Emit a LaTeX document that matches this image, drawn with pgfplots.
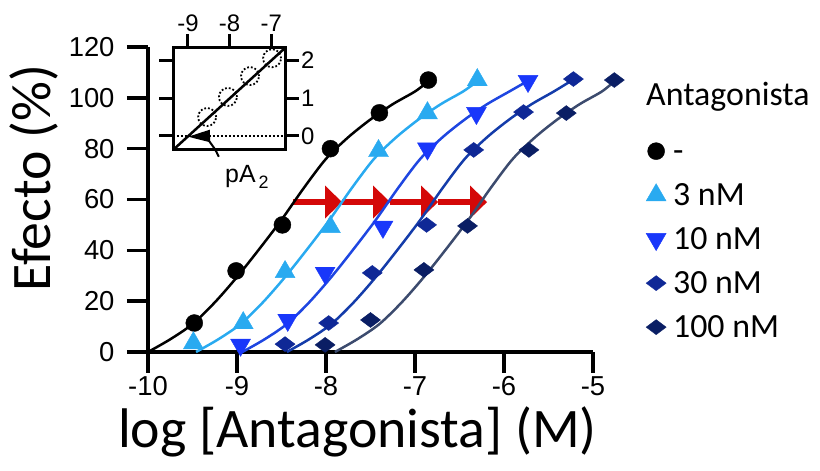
\documentclass[border=0pt]{standalone}
\usepackage{pgfplots}
\pgfplotsset{compat=1.18}
\usepackage{fontspec}
\setmainfont{Liberation Sans}
\newfontfamily\carlito{Carlito}
\usetikzlibrary{arrows.meta}
\definecolor{cLight}{RGB}{41,170,240}
\definecolor{cBlue}{RGB}{25,55,250}
\definecolor{cBlueL}{RGB}{30,70,225}
\definecolor{cDark}{RGB}{15,40,150}
\definecolor{cDarkL}{RGB}{20,60,170}
\definecolor{cNavy}{RGB}{10,30,100}
\definecolor{cNavyL}{RGB}{60,75,110}
\definecolor{cRed}{RGB}{212,8,8}
\begin{document}
\begin{tikzpicture}
\useasboundingbox (0,0) rectangle (820bp,471bp);
\begin{axis}[
  at={(148bp,119bp)}, anchor=south west, scale only axis,
  width=445bp, height=305bp,
  xmin=-10, xmax=-5, ymin=0, ymax=120,
  axis x line*=bottom, axis y line*=left,
  axis line style={line width=3.5bp, -},
  xtick={-10,-9,-8,-7,-6,-5}, xticklabels={-10,-9,-8,-7,-6,-5},
  ytick={0,20,40,60,80,100,120}, yticklabels={0,20,40,60,80,100,120},
  tick align=outside, major tick length=21bp,
  every tick/.style={line width=3.5bp, black},
  tick label style={font=\fontsize{27.5}{30}\selectfont},
  yticklabel style={xshift=-9bp},
  clip=false,
  legend style={draw=none, fill=none, at={(axis description cs:1.11,0.705)}, anchor=north west,
    font=\carlito\fontsize{34}{40}\selectfont, row sep=20bp, column sep=6bp,
    nodes={text height=22bp, text depth=2bp, inner sep=0pt}},
  legend cell align=left,
  legend image code/.code={\path[draw=none,fill=none] (-11bp,-11bp) (11bp,11bp); \draw[#1] plot coordinates {(0bp,0bp)};},
]
% red arrows
\draw[cRed, line width=6.5bp, -{Triangle[length=17bp,width=32bp]}] (axis cs:-8.37,59) -- (axis cs:-7.82,59);
\draw[cRed, line width=6.5bp, -{Triangle[length=17bp,width=32bp]}] (axis cs:-7.82,59) -- (axis cs:-7.28,59);
\draw[cRed, line width=6.5bp, -{Triangle[length=17bp,width=32bp]}] (axis cs:-7.28,59) -- (axis cs:-6.74,59);
\draw[cRed, line width=6.5bp, -{Triangle[length=17bp,width=32bp]}] (axis cs:-6.74,59) -- (axis cs:-6.19,59);
% fitted curves
\addplot[black, line width=2.5bp, smooth, forget plot] coordinates {
(-10.00,0) (-9.75,5) (-9.50,11) (-9.25,19.5) (-9.00,29.5) (-8.75,40.5) (-8.50,52) (-8.25,64.5) (-8.00,76) (-7.75,84.5) (-7.50,91.5) (-7.25,97.5) (-7.00,102.5) (-6.85,106.5)};
\addplot[cLight, line width=2.5bp, smooth, forget plot] coordinates {
(-9.46,0) (-9.21,5) (-8.96,11) (-8.71,19.5) (-8.46,29.5) (-8.21,40.5) (-7.96,52) (-7.71,64.5) (-7.46,76) (-7.21,84.5) (-6.96,91.5) (-6.71,97.5) (-6.46,102.5) (-6.30,106.5)};
\addplot[cBlueL, line width=2.5bp, smooth, forget plot] coordinates {
(-8.94,0) (-8.69,5) (-8.44,11) (-8.19,19.5) (-7.94,29.5) (-7.69,40.5) (-7.44,52) (-7.19,64.5) (-6.94,76) (-6.69,84.5) (-6.44,91.5) (-6.19,97.5) (-5.94,102.5) (-5.74,106.5)};
\addplot[cDarkL, line width=2.5bp, smooth, forget plot] coordinates {
(-8.44,0) (-8.19,5) (-7.94,11) (-7.69,19.5) (-7.44,29.5) (-7.19,40.5) (-6.94,52) (-6.69,64.5) (-6.44,76) (-6.19,84.5) (-5.94,91.5) (-5.69,97.5) (-5.44,102.5) (-5.23,107)};
\addplot[cNavyL, line width=2.5bp, smooth, forget plot] coordinates {
(-7.90,0) (-7.65,5) (-7.40,11) (-7.15,19.5) (-6.90,29.5) (-6.65,40.5) (-6.40,52) (-6.15,64.5) (-5.90,76) (-5.65,84.5) (-5.40,91.5) (-5.15,97.5) (-4.90,102.5) (-4.76,106.5)};
% data points
\addplot[only marks, mark=*, mark size=8.5bp, black] coordinates {
(-9.48,11.4) (-9.01,31.9) (-8.49,50.0) (-7.95,80.0) (-7.40,94.1) (-6.85,107.0)};
\addlegendentry{-}
\addplot[only marks, mark=triangle*, mark size=11.5bp, cLight] coordinates {
(-9.49,3.5) (-8.93,11.4) (-8.46,31.5) (-7.95,49.2) (-7.41,79.1) (-6.86,94.0) (-6.30,107.0)};
\addlegendentry{3 nM}
\addplot[only marks, mark=triangle*, mark size=11.5bp, mark options={rotate=180}, cBlue] coordinates {
(-8.96,2.8) (-8.43,12.6) (-8.01,31.1) (-7.36,49.2) (-6.86,80.0) (-6.31,94.0) (-5.73,106.6)};
\addlegendentry{10 nM}
\addplot[only marks, mark=diamond*, mark size=10bp, mark options={rotate=90}, cDark] coordinates {
(-8.46,3.1) (-7.97,11.4) (-7.48,31.1) (-6.87,50.0) (-6.34,79.5) (-5.78,94.4) (-5.22,107.4)};
\addlegendentry{30 nM}
\addplot[only marks, mark=diamond*, mark size=10bp, mark options={rotate=90}, cNavy] coordinates {
(-8.01,2.8) (-7.50,12.6) (-6.90,32.3) (-6.41,49.6) (-5.72,79.5) (-5.30,94.0) (-4.76,107.0)};
\addlegendentry{100 nM}
\end{axis}
% inset
\begin{axis}[
  at={(173bp,321bp)}, anchor=south west, scale only axis,
  width=112bp, height=102bp,
  xmin=-9.36, xmax=-6.67, ymin=-0.37, ymax=2.32,
  axis line style={line width=3bp},
  xtick={-9,-8,-7}, xticklabels={-9,-8,-7}, xtick pos=right, xticklabel pos=right,
  ytick={0,1,2}, yticklabels={0,1,2}, ytick pos=both, yticklabel pos=right,
  tick align=outside, major tick length=14bp,
  every tick/.style={line width=3bp, black},
  tick label style={font=\fontsize{24}{26}\selectfont, inner sep=2bp},
  clip=false,
]
\addplot[black, dotted, line width=2bp] coordinates {(-9.36,0) (-6.67,0)};
\addplot[black, line width=2.5bp] coordinates {(-9.36,-0.37) (-6.67,2.32)};
\addplot[only marks, mark=o, mark size=9bp, mark options={dotted, line width=1.8bp}, black] coordinates {
(-8.54,0.5) (-8.04,1.03) (-7.51,1.58) (-6.98,2.05)};
\draw[black, line width=2bp, -{Triangle[length=22bp,width=12bp]}] (axis cs:-8.26,-0.55) to[bend right=35] (axis cs:-9.0,-0.02);
\end{axis}
\node[anchor=base west, inner sep=0pt, font=\fontsize{25}{28}\selectfont] at (225bp,288bp) {pA\raisebox{-6bp}{\fontsize{18}{20}\selectfont\,2}};
\node[anchor=base west, inner sep=0pt, font=\carlito\fontsize{34}{40}\selectfont] at (646bp,365bp) {Antagonista};
\node[anchor=base, inner sep=0pt, font=\carlito\fontsize{56}{60}\selectfont] at (357.5bp,24bp) {log [Antagonista] (M)};
\node[anchor=base, rotate=90, inner sep=0pt, font=\carlito\fontsize{56}{60}\selectfont] at (50bp,293bp) {Efecto (\%)};
\end{tikzpicture}
\end{document}
